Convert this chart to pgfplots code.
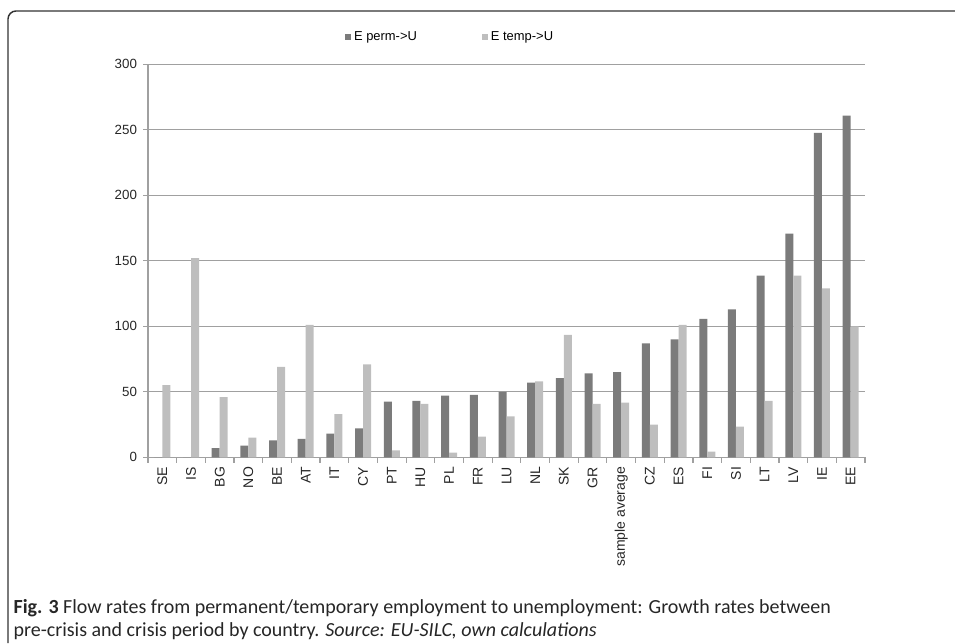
\documentclass[border=0pt]{standalone}
\usepackage{fontspec}
\setmainfont{Liberation Sans}
\newfontfamily\capfont{Carlito}
\usepackage{pgfplots}
\pgfplotsset{compat=1.18}
\usepackage{pgfplotstable}
\definecolor{perm}{HTML}{7B7B7B}
\definecolor{temp}{HTML}{BEBEBE}
\definecolor{gridc}{HTML}{A0A0A0}
\pgfplotstableread{
x perm temp
0 0 55
1 0 152
2 7 46
3 9 15
4 13 69
5 14 101
6 18 33
7 22 71
8 42.5 5.3
9 43 40.7
10 47 3.5
11 47.6 15.7
12 50 31.3
13 57 58
14 60.5 93.5
15 64 40.7
16 65 41.7
17 87 25
18 90 101
19 105.6 4.3
20 113 23.4
21 138.6 43
22 170.7 138.6
23 247.6 129
24 260.8 100
}\data
\begin{document}
\begin{tikzpicture}
\path[use as bounding box] (0,0) rectangle (716.25pt,482.25pt);
\draw[line width=1.1pt, black!80, rounded corners=6pt] (6pt,0pt) -- (6pt,474pt) -- (716.25pt,474pt);
\begin{axis}[
  at={(111pt,139.28pt)}, anchor=south west,
  scale only axis, width=537.75pt, height=294.75pt,
  xmin=-0.5, xmax=24.5, ymin=0, ymax=300,
  ybar=0pt, bar width=6pt,
  axis x line*=bottom, axis y line*=left,
  axis line style={gridc, line width=0.9pt, -},
  ytick={0,50,...,300},
  ymajorgrids, major grid style={gridc, line width=0.9pt},
  xtick={0,...,24},
  xticklabels={SE,IS,BG,NO,BE,AT,IT,CY,PT,HU,PL,FR,LU,NL,SK,GR,sample average,CZ,ES,FI,SI,LT,LV,IE,EE},
  minor xtick={-0.5,0.5,...,24.5},
  tick align=outside,
  major x tick style={draw=none},
  minor x tick style={gridc, line width=0.9pt},
  minor tick length=4pt,
  major tick length=3.75pt,
  y tick style={gridc, line width=0.9pt},
  /pgf/number format/assume math mode=true,
  yticklabel style={font=\fontsize{10}{12}\selectfont, text=black!85, xshift=-1pt},
  xticklabel style={font=\fontsize{10.5}{12}\selectfont, text=black!85, rotate=90, anchor=east},
  legend style={at={(axis description cs:0.422,1.0695)}, anchor=center, draw=none, fill=none,
    legend columns=2, font=\fontsize{9.7}{10}\selectfont,
    /tikz/every even column/.append style={column sep=47pt}},
  legend image code/.code={\fill[#1] (0pt,-2.3pt) rectangle (4.5pt,2.3pt);},
]
\addplot[fill=perm, draw=none] table[x=x, y=perm] {\data};
\addlegendentry{E perm->U}
\addplot[fill=temp, draw=none] table[x=x, y=temp] {\data};
\addlegendentry{E temp->U}
\end{axis}
\node[anchor=base west, inner sep=0pt, font=\capfont\fontsize{15}{18}\selectfont, text=black!85] at (10pt,22.5pt)
  {\textbf{Fig. 3} Flow rates from permanent/temporary employment to unemployment: Growth rates between};
\node[anchor=base west, inner sep=0pt, font=\capfont\fontsize{15}{18}\selectfont, text=black!85] at (10pt,5pt)
  {pre-crisis and crisis period by country. \textit{Source: EU-SILC, own calculations}};
\end{tikzpicture}
\end{document}
